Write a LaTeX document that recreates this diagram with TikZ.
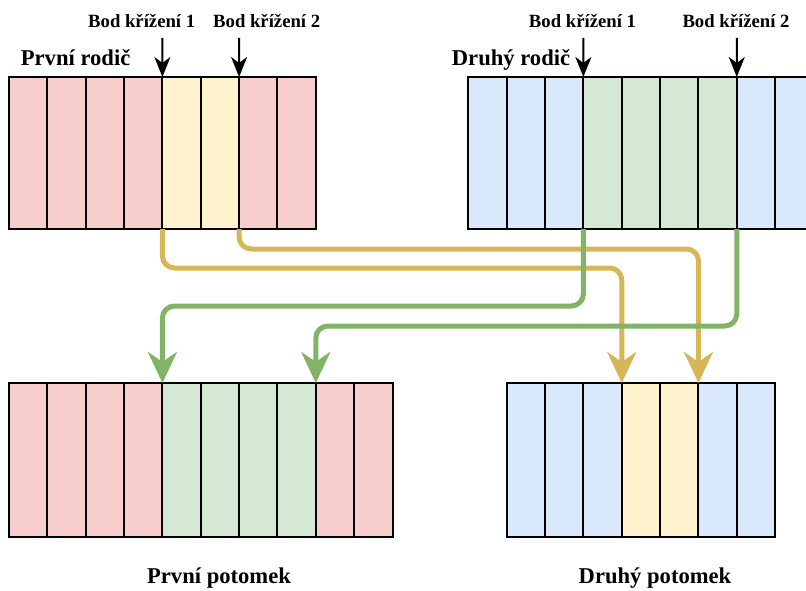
\documentclass[tikz,border=0pt]{standalone}
\usepackage{fontspec}
\setmainfont{Liberation Serif}
\usetikzlibrary{arrows.meta}
\definecolor{cred}{HTML}{F8CECC}
\definecolor{cyel}{HTML}{FFF2CC}
\definecolor{cgrn}{HTML}{D5E8D4}
\definecolor{cblu}{HTML}{DAE8FC}
\definecolor{syel}{HTML}{D6B656}
\definecolor{sgrn}{HTML}{82B366}
\tikzset{
  cell/.style={draw=black, line width=2pt, minimum width=38.35pt, inner sep=0pt, outer sep=0pt, anchor=north west},
  pcell/.style={cell, minimum height=152pt},
  ccell/.style={cell, minimum height=154pt},
  lblsmall/.style={font=\bfseries\fontsize{18.7}{20}\selectfont, inner sep=0pt},
  lblbig/.style={font=\bfseries\fontsize{22.6}{24}\selectfont, inner sep=0pt},
  cut/.style={draw=black, line width=2pt, -{Stealth[length=20pt,width=16pt,inset=6pt]}},
  yelconn/.style={draw=syel, line width=5pt, rounded corners=12pt, -{Stealth[length=31pt,width=29pt,inset=10pt]}},
  grnconn/.style={draw=sgrn, line width=5pt, rounded corners=12pt, -{Stealth[length=31pt,width=29pt,inset=10pt]}},
}
\begin{document}
\begin{tikzpicture}[x=1pt,y=-1pt]
\useasboundingbox (0,0) rectangle (806,591);
\clip (0,0) rectangle (806,591);
% first parent
\foreach \i/\c in {1/cred,2/cred,3/cred,4/cred,5/cyel,6/cyel,7/cred,8/cred}
  \node[pcell, fill=\c] (pa\i) at ({9+(\i-1)*38.35},77) {};
% second parent
\foreach \i/\c in {1/cblu,2/cblu,3/cblu,4/cgrn,5/cgrn,6/cgrn,7/cgrn,8/cblu,9/cblu}
  \node[pcell, fill=\c] (pb\i) at ({468.3+(\i-1)*38.35},77) {};
% first child
\foreach \i/\c in {1/cred,2/cred,3/cred,4/cred,5/cgrn,6/cgrn,7/cgrn,8/cgrn,9/cred,10/cred}
  \node[ccell, fill=\c] (ca\i) at ({9+(\i-1)*38.35},383) {};
% second child
\foreach \i/\c in {1/cblu,2/cblu,3/cblu,4/cyel,5/cyel,6/cblu,7/cblu}
  \node[ccell, fill=\c] (cb\i) at ({506.7+(\i-1)*38.35},383) {};
% labels
\node[lblbig, anchor=base west] (lpa) at (20.7,66) {První rodič};
\node[lblbig, anchor=base west] (lpb) at (451.7,66) {Druhý rodič};
\node[lblsmall, anchor=base west] (la1) at (88,28) {Bod křížení 1};
\node[lblsmall, anchor=base west] (la2) at (213,28) {Bod křížení 2};
\node[lblsmall, anchor=base] (lb1) at (582.5,28) {Bod křížení 1};
\node[lblsmall, anchor=base] (lb2) at (736,28) {Bod křížení 2};
\node[lblbig, anchor=base] (lca) at (219,583) {První potomek};
\node[lblbig, anchor=base] (lcb) at (655,583) {Druhý potomek};
% crossover point arrows
\coordinate (ta1) at (162.4,38);
\coordinate (ta2) at (239.1,38);
\coordinate (tb1) at (583.4,38);
\coordinate (tb2) at (736.8,38);
\draw[cut] (ta1) -- (pa5.north west);
\draw[cut] (ta2) -- (pa7.north west);
\draw[cut] (tb1) -- (pb4.north west);
\draw[cut] (tb2) -- (pb8.north west);
% connectors
\draw[yelconn] (pa5.south west) -- ++(0,39) -| (cb4.north west);
\draw[yelconn] (pa7.south west) -- ++(0,20) -| (cb6.north west);
\draw[grnconn] (pb4.south west) -- ++(0,77) -| (ca5.north west);
\draw[grnconn] (pb8.south west) -- ++(0,97) -| (ca9.north west);
\end{tikzpicture}
\end{document}
